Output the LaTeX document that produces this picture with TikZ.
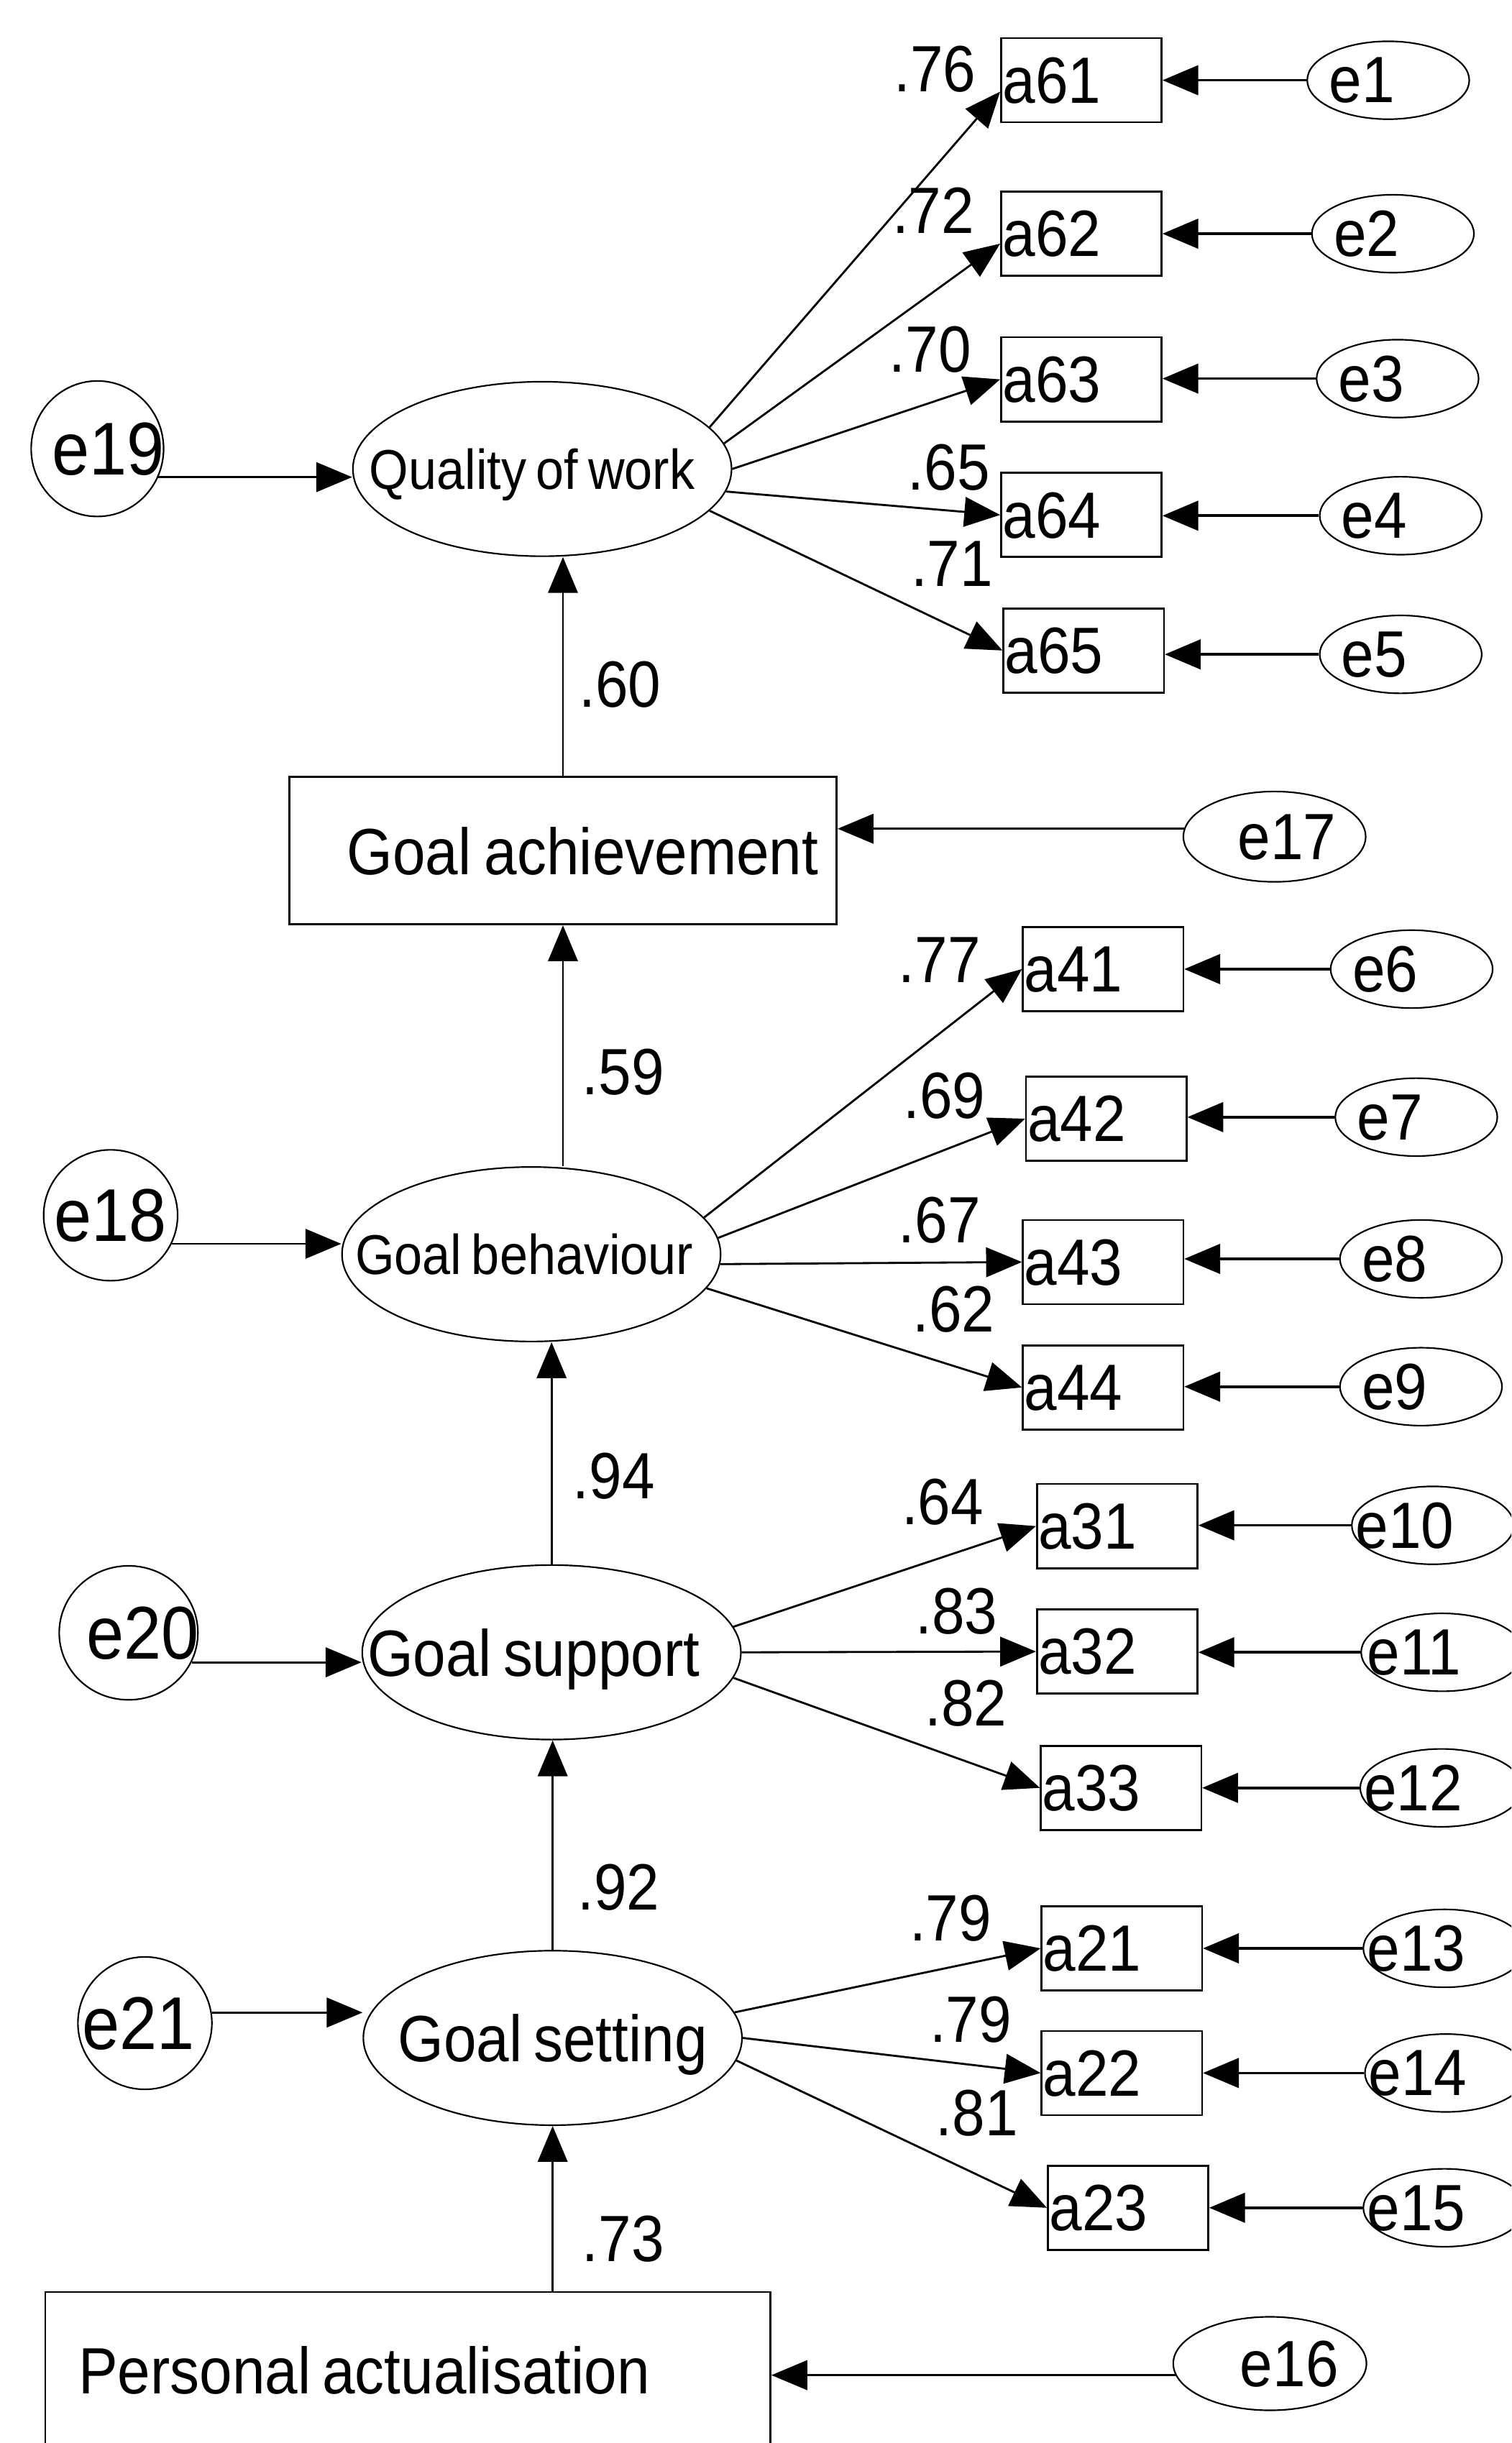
\documentclass[tikz,border=0pt]{standalone}
\usepackage{fontspec}
\setmainfont{Liberation Sans}[FakeStretch=0.9,WordSpace=0.7]
\usetikzlibrary{shapes.geometric,arrows.meta}

% font sizes used in the path diagram
\newcommand\semBig{\fontsize{42pt}{48pt}\selectfont}
\newcommand\semSmall{\fontsize{36pt}{42pt}\selectfont}
\newcommand\semLeft{\fontsize{48pt}{54pt}\selectfont}
% zero-width text, moved sideways by half of #1
\newcommand\offtxt[2]{\makebox[0pt]{\hspace*{#1}#2}}

\begin{document}
\begin{tikzpicture}[x=1pt,y=-1pt,
  lat/.style={draw, ellipse, line width=1pt, inner sep=0pt, minimum width=243pt,
    minimum height=112pt, font=\semBig, text depth=0pt},
  ind/.style={draw, rectangle, line width=1.2pt, inner sep=0pt, minimum width=103pt,
    minimum height=54pt, text width=101pt, align=left, font=\semBig, text depth=0pt},
  err/.style={draw, ellipse, line width=1pt, inner sep=0pt, minimum width=104pt,
    minimum height=50pt, font=\semBig, text depth=0pt},
  lerr/.style={draw, ellipse, line width=1pt, inner sep=0pt, font=\semLeft, text depth=0pt},
  obs/.style={draw, rectangle, line width=1.2pt, inner sep=0pt, font=\semBig, text depth=0pt},
  coef/.style={font=\semBig, inner sep=0pt, text depth=0pt},
  arr/.style={line width=1.3pt, -{Triangle[length=23pt,width=19pt]}},
  earr/.style={line width=1.7pt, -{Triangle[length=23pt,width=19pt]}}]

\useasboundingbox (0,0) rectangle (970,1568);
\fill[white] (0,0) rectangle (970,1568);
\clip (0,0) rectangle (970,1568);

% latent variables
\node[lat, font=\semSmall] (qow)  at (348,301)    {\offtxt{-13pt}{Quality of work}};
\node[lat, font=\semSmall] (gb)   at (341,805)    {\offtxt{-9pt}{Goal behaviour}};
\node[lat]                 (gs)   at (354,1060.5) {\offtxt{-23pt}{Goal support}};
\node[lat]                 (gset) at (354.7,1308) {\offtxt{0pt}{Goal setting}};

% observed composites (natural word spacing inside the aligned boxes)
\node[obs, minimum width=351.4pt, minimum height=94.6pt, text width=328pt, align=right]
  (ga) at (361.3,546) {\spaceskip=0pt\relax Goal achievement};
\node[obs, minimum width=465.5pt, minimum height=100pt, text width=422.7pt, align=left]
  (pa) at (261.75,1521) {\spaceskip=0pt\relax Personal actualisation};

% indicators
\node[ind] (a61) at (694,51.5)   {a61};
\node[ind] (a62) at (694,150)    {a62};
\node[ind] (a63) at (694,243.5)  {a63};
\node[ind] (a64) at (694,330.5)  {a64};
\node[ind] (a65) at (695.5,417.5){a65};
\node[ind] (a41) at (708,622)    {a41};
\node[ind] (a42) at (710,718)    {a42};
\node[ind] (a43) at (708,810)    {a43};
\node[ind] (a44) at (708,890.5)  {a44};
\node[ind] (a31) at (717,979.5)  {a31};
\node[ind] (a32) at (717,1060)   {a32};
\node[ind] (a33) at (719.5,1147.5){a33};
\node[ind] (a21) at (720,1250.5) {a21};
\node[ind] (a22) at (720,1330.5) {a22};
\node[ind] (a23) at (724,1417)   {a23};

% measurement errors
\node[err] (e1)  at (891,51.5)   {\offtxt{-34pt}{e1}};
\node[err] (e2)  at (894,150)    {\offtxt{-34pt}{e2}};
\node[err] (e3)  at (897,243)    {\offtxt{-34pt}{e3}};
\node[err] (e4)  at (899,331)    {\offtxt{-34pt}{e4}};
\node[err] (e5)  at (899,420)    {\offtxt{-34pt}{e5}};
\node[err] (e6)  at (906,622)    {\offtxt{-34pt}{e6}};
\node[err] (e7)  at (909,717)    {\offtxt{-34pt}{e7}};
\node[err] (e8)  at (912,808)    {\offtxt{-34pt}{e8}};
\node[err] (e9)  at (912,890)    {\offtxt{-34pt}{e9}};
\node[err] (e10) at (919.6,979)  {\offtxt{-36pt}{e10}};
\node[err] (e11) at (925.6,1060.5){\offtxt{-36pt}{e11}};
\node[err] (e12) at (925,1147.5) {\offtxt{-36pt}{e12}};
\node[err] (e13) at (927,1250.5) {\offtxt{-36pt}{e13}};
\node[err] (e14) at (928,1330.5) {\offtxt{-36pt}{e14}};
\node[err] (e15) at (927,1417)   {\offtxt{-36pt}{e15}};
\node[err, minimum width=117pt, minimum height=58pt] (e17) at (818,537)  {\offtxt{16pt}{e17}};
\node[err, minimum width=124pt, minimum height=60pt] (e16) at (815,1517) {\offtxt{25pt}{e16}};

% structural disturbances
\node[lerr, minimum width=85pt, minimum height=87pt] (e19) at (62.5,288)   {\offtxt{14pt}{e19}};
\node[lerr, minimum width=86pt, minimum height=84pt] (e18) at (71,780)     {\offtxt{0pt}{e18}};
\node[lerr, minimum width=89pt, minimum height=86pt] (e20) at (82.5,1048)  {\offtxt{18pt}{e20}};
\node[lerr, minimum width=86pt, minimum height=85pt] (e21) at (93,1298.5)  {\offtxt{-8pt}{e21}};

% standardized coefficients
\node[coef] (c61) at (600,44)   {.76};
\node[coef] (c62) at (599,135)  {.72};
\node[coef] (c63) at (597,224)  {.70};
\node[coef] (c64) at (609,300)  {.65};
\node[coef] (c65) at (611,362)  {.71};
\node[coef] (cqa) at (398,439)  {.60};
\node[coef] (c41) at (603,616)  {.77};
\node[coef] (c42) at (606,703)  {.69};
\node[coef] (c43) at (603,783)  {.67};
\node[coef] (c44) at (612,840)  {.62};
\node[coef] (cab) at (400,688)  {.59};
\node[coef] (cbs) at (394,947)  {.94};
\node[coef] (c31) at (605,964)  {.64};
\node[coef] (c32) at (614,1034) {.83};
\node[coef] (c33) at (620,1093) {.82};
\node[coef] (css) at (397,1211) {.92};
\node[coef] (c21) at (610,1231) {.79};
\node[coef] (c22) at (623,1296) {.79};
\node[coef] (c23) at (627,1356) {.81};
\node[coef] (cps) at (400,1437) {.73};

% loadings
\draw[arr] (qow.14)  -- (a61.188);
\draw[arr] (qow.8)   -- (a62.187);
\draw[arr] (qow.0)   -- (a63.west);
\draw[arr] (qow.-7)  -- (a64.west);
\draw[arr] (qow.-14) -- (a65.west);
\draw[arr] (gb.12)   -- (a41.west);
\draw[arr] (gb.5)    -- (a42.west);
\draw[arr] (gb.-3)   -- (a43.west);
\draw[arr] (gb.-11)  -- (a44.west);
\draw[arr] (gs.8)    -- (a31.west);
\draw[arr] (gs.0)    -- (a32.west);
\draw[arr] (gs.-8)   -- (a33.west);
\draw[arr] (gset.8)  -- (a21.west);
\draw[arr] (gset.0)  -- (a22.west);
\draw[arr] (gset.-7) -- (a23.west);

% error terms of the indicators
\foreach \e/\a in {e1/a61,e2/a62,e3/a63,e4/a64,e5/a65,e6/a41,e7/a42,e8/a43,e9/a44,
                   e10/a31,e11/a32,e12/a33,e13/a21,e14/a22,e15/a23}
  \draw[earr] (\e.west) -- (\e.west -| \a.east);

% structural paths
\draw[arr] (ga.north) -- (ga.north |- qow.south);
\draw[arr] (ga.south |- gb.north) -- (ga.south);
\draw[arr] (gs.north) -- (gs.north |- gb.south);
\draw[arr] (gset.north) -- (gset.north |- gs.south);
\draw[arr] (gset.south |- pa.north) -- (gset.south);

% disturbances
\draw[arr] (e19.-25) -- (e19.-25 -| qow.west);
\draw[arr] (e18.-25) -- (e18.-25 -| gb.west);
\draw[arr] (e20.-25) -- (e20.-25 -| gs.west);
\draw[arr] (e21.9)   -- (e21.9 -| gset.west);
\draw[arr] (e17.175) -- (e17.175 -| ga.east);
\draw[arr] (e16.187) -- (e16.187 -| pa.east);
\end{tikzpicture}
\end{document}
